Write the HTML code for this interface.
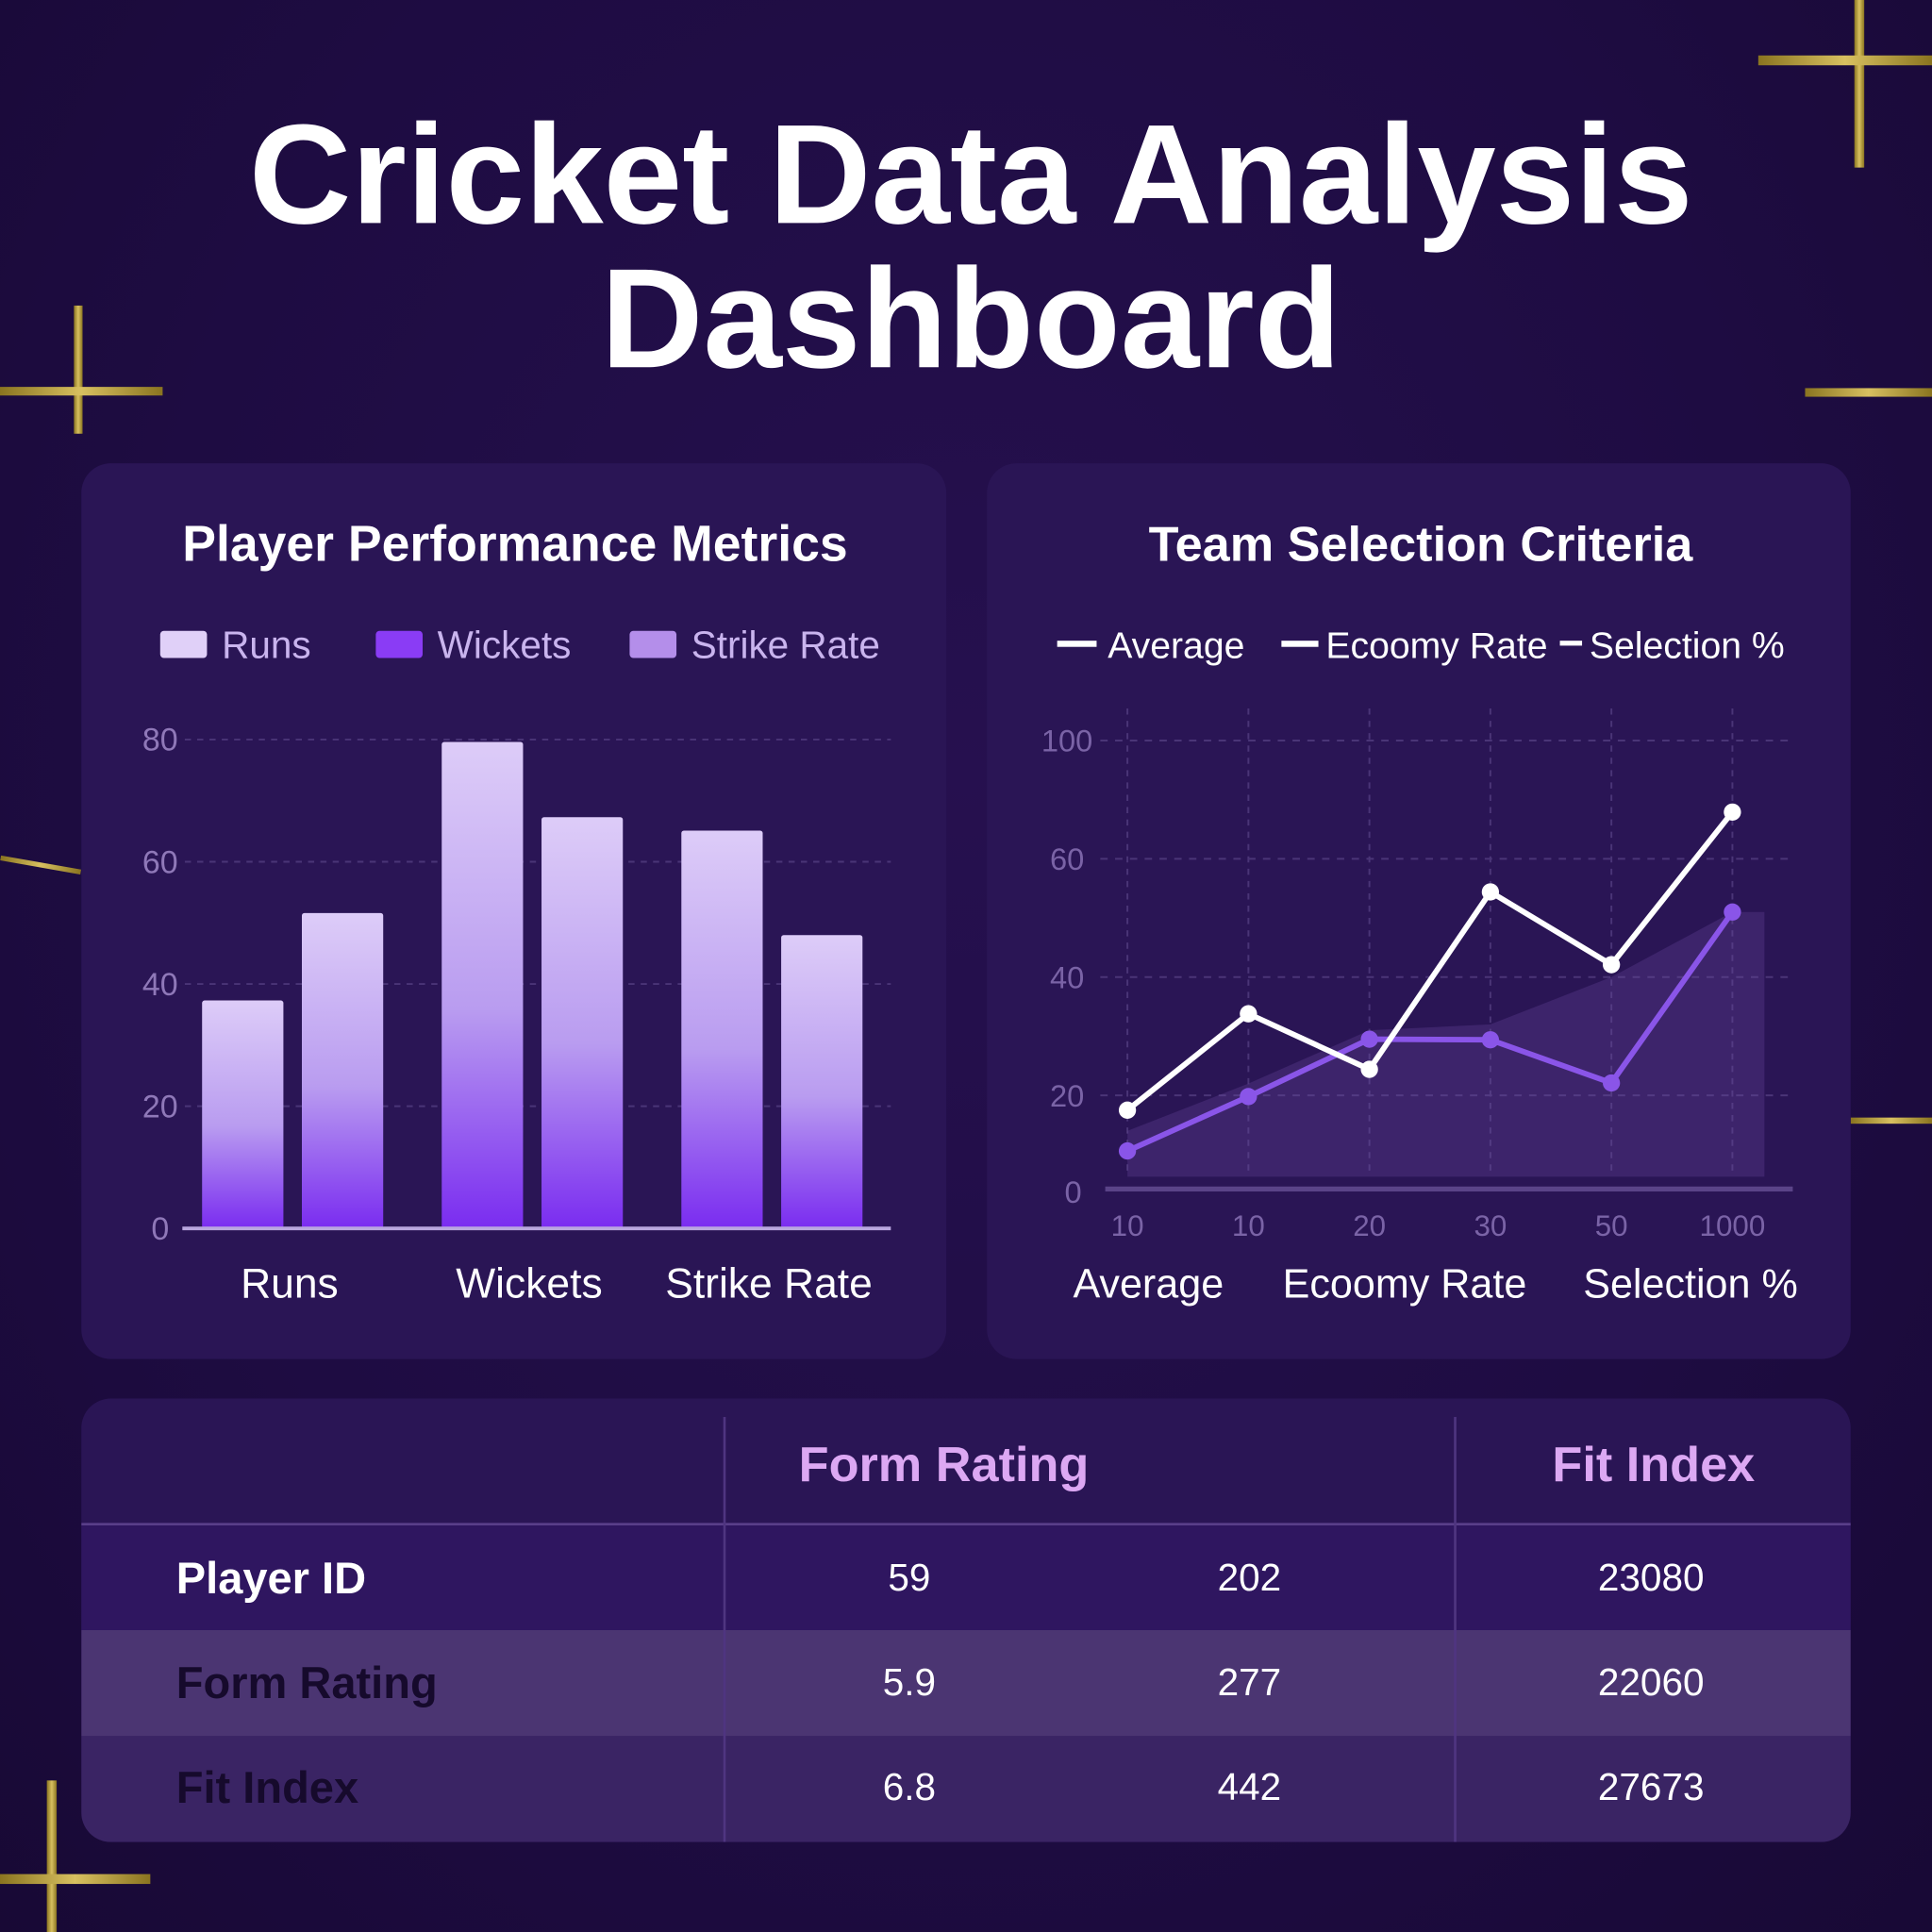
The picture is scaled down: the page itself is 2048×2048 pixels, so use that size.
<!DOCTYPE html>
<html><head><meta charset="utf-8">
<style>
html,body{margin:0;padding:0;width:2048px;height:2048px;overflow:hidden;background:#1e0c42;}
#root{position:absolute;left:0;top:0;width:1568px;height:1568px;transform:scale(1.306122);transform-origin:0 0;font-family:"Liberation Sans",sans-serif;background:radial-gradient(ellipse at 50% 40%,#26104f 0%,#1e0c42 60%,#180935 100%);overflow:hidden;}
.abs{position:absolute;}
.gold{position:absolute;background:linear-gradient(90deg,#8a7420,#d8c060,#8a7420);}
.panel{position:absolute;background:#2a1555;border-radius:24px;}
.t{position:absolute;white-space:nowrap;}
</style></head><body>
<div id="root">
<div class="gold" style="left:1505px;top:0;width:8px;height:136px"></div>
<div class="gold" style="left:1427px;top:45px;width:141px;height:8px"></div>
<div class="gold" style="left:60px;top:248px;width:7px;height:104px"></div>
<div class="gold" style="left:0;top:314px;width:132px;height:7px"></div>
<div class="gold" style="left:1465px;top:315px;width:103px;height:7px"></div>
<div class="gold" style="left:38px;top:1445px;width:8px;height:123px"></div>
<div class="gold" style="left:0;top:1521px;width:122px;height:8px"></div>
<div class="gold" style="left:1502px;top:907px;width:66px;height:5px"></div>
<div class="gold" style="left:0;top:700px;width:66px;height:4px;transform:rotate(10deg)"></div>

<div class="t" style="left:0;width:1576px;text-align:center;top:84px;font-size:115px;font-weight:bold;color:#fff;line-height:117px;letter-spacing:0px">Cricket Data Analysis<br>Dashboard</div>

<div class="panel" style="left:66px;top:376px;width:702px;height:727px"></div>
<div class="panel" style="left:801px;top:376px;width:701px;height:727px"></div>
<div class="panel" style="left:66px;top:1135px;width:1436px;height:360px;overflow:hidden">
  <div class="abs" style="left:0;top:102px;width:1436px;height:86px;background:#2f1660"></div>
  <div class="abs" style="left:0;top:188px;width:1436px;height:86px;background:#4b3572"></div>
  <div class="abs" style="left:0;top:274px;width:1436px;height:86px;background:#3a2464"></div>
  <div class="abs" style="left:0;top:101px;width:1436px;height:2px;background:#5a3f8a"></div>
  <div class="abs" style="left:521px;top:15px;width:2px;height:345px;background:#4f3580"></div>
  <div class="abs" style="left:1114px;top:15px;width:2px;height:345px;background:#4f3580"></div>
  <div class="t" style="left:500px;width:400px;text-align:center;top:32px;font-size:40px;font-weight:bold;color:#dca8f3">Form Rating</div>
  <div class="t" style="left:1126px;width:300px;text-align:center;top:32px;font-size:40px;font-weight:bold;color:#dca8f3">Fit Index</div>
  <div class="t" style="left:77px;top:125px;font-size:36px;font-weight:bold;color:#fff">Player ID</div>
  <div class="t" style="left:77px;top:210px;font-size:36px;font-weight:bold;color:#160a2c">Form Rating</div>
  <div class="t" style="left:77px;top:295px;font-size:36px;font-weight:bold;color:#160a2c">Fit Index</div>
  <div class="t" style="left:572px;width:200px;text-align:center;top:128px;font-size:31px;color:#fff">59</div>
  <div class="t" style="left:848px;width:200px;text-align:center;top:128px;font-size:31px;color:#fff">202</div>
  <div class="t" style="left:1174px;width:200px;text-align:center;top:128px;font-size:31px;color:#fff">23080</div>
  <div class="t" style="left:572px;width:200px;text-align:center;top:213px;font-size:31px;color:#fff">5.9</div>
  <div class="t" style="left:848px;width:200px;text-align:center;top:213px;font-size:31px;color:#fff">277</div>
  <div class="t" style="left:1174px;width:200px;text-align:center;top:213px;font-size:31px;color:#fff">22060</div>
  <div class="t" style="left:572px;width:200px;text-align:center;top:298px;font-size:31px;color:#fff">6.8</div>
  <div class="t" style="left:848px;width:200px;text-align:center;top:298px;font-size:31px;color:#fff">442</div>
  <div class="t" style="left:1174px;width:200px;text-align:center;top:298px;font-size:31px;color:#fff">27673</div>
</div>

<svg id="charts" class="abs" style="left:0;top:0" width="1568" height="1568">
<defs>
<linearGradient id="barg" x1="0" y1="0" x2="0" y2="1"><stop offset="0" stop-color="#ddccf8"/><stop offset="0.55" stop-color="#b99cf0"/><stop offset="1" stop-color="#7a2cf0"/></linearGradient>
</defs>
<g font-family="Liberation Sans, sans-serif">
<text x="418" y="455" text-anchor="middle" font-size="41" font-weight="bold" fill="#fff">Player Performance Metrics</text>
<rect x="130" y="512" width="38" height="22" rx="3" fill="#e0d0f8"/>
<text x="180" y="534" font-size="31" fill="#c9b4ee">Runs</text>
<rect x="305" y="512" width="38" height="22" rx="3" fill="#8a3cf5"/>
<text x="355" y="534" font-size="31" fill="#c9b4ee">Wickets</text>
<rect x="511" y="512" width="38" height="22" rx="3" fill="#b48eea"/>
<text x="561" y="534" font-size="31" fill="#c9b4ee">Strike Rate</text>
<g id="left"></g>
<text x="1153" y="455" text-anchor="middle" font-size="40" font-weight="bold" fill="#fff">Team Selection Criteria</text>
<rect x="858" y="520" width="32" height="5" fill="#fff"/>
<text x="899" y="534" font-size="30" fill="#fff">Average</text>
<rect x="1040" y="520" width="30" height="5" fill="#fff"/>
<text x="1076" y="534" font-size="30" fill="#fff">Ecoomy Rate</text>
<rect x="1266" y="520" width="18" height="4" fill="#fff"/>
<text x="1290" y="534" font-size="30" fill="#fff">Selection %</text>
<g id="right"></g>
</g>
</svg>
</div>
<script>
// Left chart data
const barCategories = ["Runs","Wickets","Strike Rate"];
const barValues = [37.3, 51.6, 79.6, 67.3, 65.1, 48.0];
const leftTicks = [0,20,40,60,80];
// Right chart data
const lineXLabels = ["10","10","20","30","50","1000"];
const yTickValues = [20,40,60,80];
const yTickLabels = ["20","40","60","100"];
const averageValues = [17.5, 33.8, 24.4, 54.4, 42.1, 67.9];
const selectionValues = [10.6, 19.8, 29.5, 29.4, 22.1, 51.0];
const areaValues = [14, 22, 31, 32, 40, 51];

const NS="http://www.w3.org/2000/svg";
function mk(p,tag,a){const e=document.createElementNS(NS,tag);for(const k in a)e.setAttribute(k,a[k]);p.appendChild(e);return e;}
const L=document.getElementById('left');
const ly=v=>997-v*4.96;
leftTicks.forEach(t=>{
  if(t>0){const g=mk(L,'line',{x1:150,x2:723,y1:ly(t),y2:ly(t),stroke:'#4a3577','stroke-dasharray':'5 5','stroke-width':1.5});
  
  }
  const tx=mk(L,'text',{x:130,y:ly(t)+9,'text-anchor':'middle','font-size':26,fill:'#8f78b8'});
  tx.textContent=t;
  
  
});
const bx=i=>{const grp=Math.floor(i/2),sub=i%2;return 164+grp*194.5+sub*81;};
barValues.forEach((v,i)=>{
  const r=mk(L,'rect',{x:bx(i),y:ly(v),width:66,height:ly(0)-ly(v),fill:'url(#barg)',rx:2});
  
  
});
const ax=mk(L,'line',{x1:148,x2:723,y1:997,y2:997,stroke:'#b9a6df','stroke-width':3});


barCategories.forEach((c,i)=>{
  const t=mk(L,'text',{x:bx(i*2)+71,y:1053,'text-anchor':'middle','font-size':34,fill:'#fff'});
  t.textContent=c;
  
  
});

const R=document.getElementById('right');
const rx=i=>915+i*98.2;
const ry=v=>985-v*4.8;
lineXLabels.forEach((l,i)=>{
  const g=mk(R,'line',{x1:rx(i),x2:rx(i),y1:575,y2:955,stroke:'#4a3577','stroke-dasharray':'5 5','stroke-width':1.5});
  
  
  const t=mk(R,'text',{x:rx(i),y:1003,'text-anchor':'middle','font-size':24,fill:'#7a63a6'});
  t.textContent=l;
  
  
});
yTickValues.forEach((v,i)=>{
  const g=mk(R,'line',{x1:893,x2:1455,y1:ry(v),y2:ry(v),stroke:'#4a3577','stroke-dasharray':'6 6','stroke-width':1.5});
  
  
  const t=mk(R,'text',{x:866,y:ry(v)+9,'text-anchor':'middle','font-size':25,fill:'#7a63a6'});
  t.textContent=yTickLabels[i];
  
  
});
const z=mk(R,'text',{x:871,y:976,'text-anchor':'middle','font-size':25,fill:'#7a63a6'});z.textContent='0';


let ap='M'+rx(0)+','+ry(areaValues[0]);
areaValues.forEach((v,i)=>{ap+=' L'+rx(i)+','+ry(v);});
ap+=' L1432,'+ry(areaValues[5])+' L1432,955 L'+rx(0)+',955 Z';
const ar=mk(R,'path',{d:ap,fill:'#6a4aa0','fill-opacity':0.3});


const ra=mk(R,'line',{x1:897,x2:1455,y1:965,y2:965,stroke:'#5a4388','stroke-width':4});


function series(vals,col,name){
  const pl=mk(R,'polyline',{points:vals.map((v,i)=>rx(i)+','+ry(v)).join(' '),fill:'none',stroke:col,'stroke-width':4.5,'stroke-linejoin':'round'});
  
  
  vals.forEach((v,i)=>{
    const c=mk(R,'circle',{cx:rx(i),cy:ry(v),r:7,fill:col});
    
    
  });
}
series(selectionValues,'#8a55e8','selection');
series(averageValues,'#ffffff','average');
[["Average",932],["Ecoomy Rate",1140],["Selection %",1372]].forEach(([s,x])=>{
  const t=mk(R,'text',{x:x,y:1053,'text-anchor':'middle','font-size':33,fill:'#fff'});
  t.textContent=s;
  
  
});
</script>
</body></html>
